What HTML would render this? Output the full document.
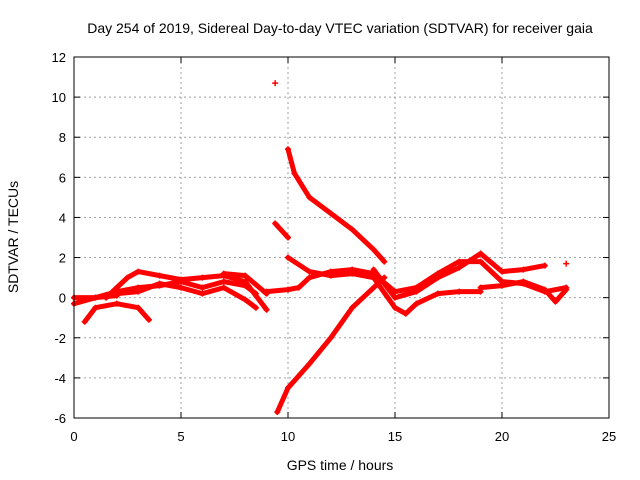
<!DOCTYPE html>
<html><head><meta charset="utf-8"><style>
html,body{margin:0;padding:0;background:#fff;}
svg{display:block;font-family:"Liberation Sans",sans-serif;}
</style></head><body>
<svg id="chart" width="640" height="480">
<text x="340" y="33" font-size="14" text-anchor="middle">Day 254 of 2019, Sidereal Day-to-day VTEC variation (SDTVAR) for receiver gaia</text>
<text x="340" y="470" font-size="14" text-anchor="middle">GPS time / hours</text>
<text x="18" y="237" font-size="14" text-anchor="middle" transform="rotate(-90 18 237)">SDTVAR / TECUs</text>
<g id="grid"></g><g id="ticks"></g><g id="series"></g>
<rect x="74" y="57" width="535" height="361" fill="none" stroke="#000" stroke-width="1"/>
</svg>
<script>
const xTicks=[0,5,10,15,20,25];
const yTicks=[-6,-4,-2,0,2,4,6,8,10,12];
const trackA=[[10,7.4],[10.3,6.2],[11,5],[12,4.2],[13,3.4],[14,2.4],[14.5,1.8]];
const trackB=[[9.5,-5.7],[10,-4.5],[11,-3.3],[12,-2],[13,-0.5],[14,0.5],[14.5,1]];
const trackC=[[9.4,3.7],[10,3]];
const trackD=[[9.4,10.7]];
const trackE=[[10,2],[11,1.3],[12,1.1],[13,1.2],[14,1],[15,-0.5],[15.5,-0.8],[16,-0.3],[17,0.2],[18,0.3],[19,0.3]];
const trackF=[[14,1.4],[15,0],[16,0.3],[17,1],[18,1.5],[19,2.2],[20,1.3],[21,1.4],[22,1.6]];
const trackG=[[14,1.2],[15,0.3],[16,0.5],[17,1.2],[18,1.8],[19,1.8],[20,0.8],[21,0.7],[22,0.3],[23,0.5]];
const trackH=[[19,0.5],[20,0.6],[21,0.8],[22,0.4],[22.5,-0.2],[23,0.4]];
const trackI=[[23,1.7]];
const trackJ=[[0,-0.3],[1,0],[2,0.3],[3,0.5],[4,0.6],[5,0.8],[6,0.5],[7,0.8],[8,0.6],[8.5,0.2]];
const trackK=[[0.5,-1.2],[1,-0.5],[2,-0.3],[3,-0.5],[3.5,-1.1]];
const trackL=[[1.5,0],[2.5,1],[3,1.3],[4,1.1],[5,0.9],[6,1],[7,1.1],[8,0.8],[9,-0.6]];
const trackM=[[2,0.2],[3,0.3],[4,0.7],[5,0.5],[6,0.2],[7,0.5],[8,-0.1],[8.5,-0.5]];
const trackN=[[7,1.2],[8,1.1],[9,0.2]];
const trackO=[[9,0.3],[10,0.4],[10.5,0.5],[11,1],[12,1.3],[13,1.4],[14,1.2]];
const trackP=[[0,0],[1,0],[2,0.1]];
const tracks=[trackA,trackB,trackC,trackD,trackE,trackF,trackG,trackH,trackI,trackJ,trackK,trackL,trackM,trackN,trackO,trackP];
const NS="http://www.w3.org/2000/svg";
const X0=74,X1=609,Y0=418,Y1=57;
function sx(v){return X0+(v-0)/(25-0)*(X1-X0);}
function sy(v){return Y0-(v+6)/18*(Y0-Y1);}
function mk(t,a,p){const e=document.createElementNS(NS,t);for(const k in a)e.setAttribute(k,a[k]);p.appendChild(e);return e;}
const grid=document.getElementById('grid'),ticks=document.getElementById('ticks'),ser=document.getElementById('series');
xTicks.forEach(v=>{
 if(v>0&&v<25){const l=mk('line',{x1:sx(v),x2:sx(v),y1:Y1,y2:Y0,stroke:'#a0a0a0','stroke-dasharray':'2,3'},grid);
 
 }
 const t=mk('text',{x:sx(v),y:Y0+23,'font-size':13,'text-anchor':'middle'},ticks);t.textContent=v;
 
 
 mk('line',{x1:sx(v),x2:sx(v),y1:Y0,y2:Y0-6,stroke:'#000'},ticks);
 mk('line',{x1:sx(v),x2:sx(v),y1:Y1,y2:Y1+6,stroke:'#000'},ticks);
});
yTicks.forEach(v=>{
 if(v>-6&&v<12){const l=mk('line',{x1:X0,x2:X1,y1:sy(v),y2:sy(v),stroke:'#a0a0a0','stroke-dasharray':'2,3'},grid);
 
 }
 const t=mk('text',{x:X0-8,y:sy(v)+5,'font-size':13,'text-anchor':'end'},ticks);t.textContent=v;
 
 
 mk('line',{x1:X0,x2:X0+6,y1:sy(v),y2:sy(v),stroke:'#000'},ticks);
 mk('line',{x1:X1,x2:X1-6,y1:sy(v),y2:sy(v),stroke:'#000'},ticks);
});
tracks.forEach((tr,i)=>{
 const g=mk('g',{},ser);
 
 
 if(tr.length>1){mk('polyline',{points:tr.map(p=>sx(p[0])+','+sy(p[1])).join(' '),fill:'none',stroke:'#f00','stroke-width':5,'stroke-linejoin':'round','stroke-linecap':'round'},g);}
 tr.forEach(p=>{const x=sx(p[0]),y=sy(p[1]);
  mk('path',{d:`M${x-3},${y}H${x+3}M${x},${y-3}V${y+3}`,stroke:'#f00','stroke-width':1.5},g);});
});
</script>
</body></html>
